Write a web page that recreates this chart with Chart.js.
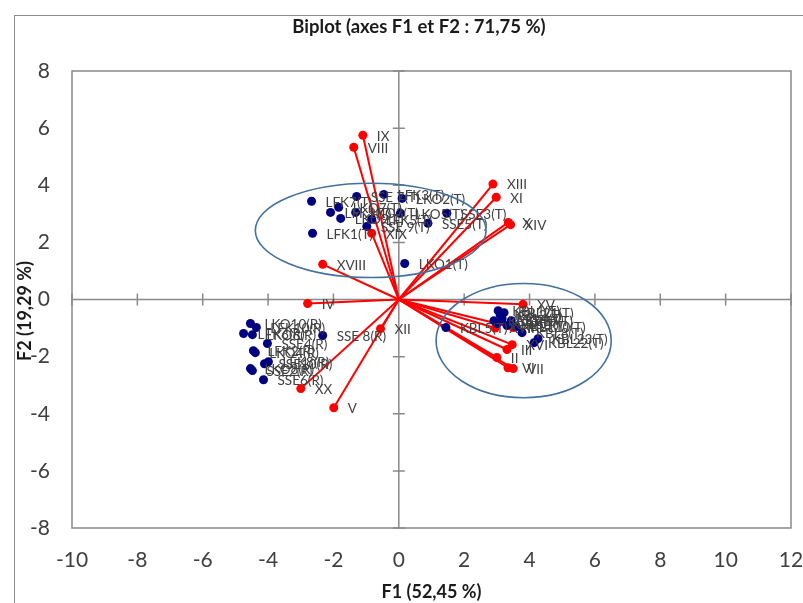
<!DOCTYPE html>
<html>
<head>
<meta charset="utf-8">
<script src="https://cdn.jsdelivr.net/npm/chart.js@4/dist/chart.umd.min.js"></script>
<style>
  html, body { margin: 0; padding: 0; background: #fff; }
  #wrap { position: relative; width: 803px; height: 603px; }
</style>
</head>
<body>
<div id="wrap"><canvas id="biplot" width="803" height="603"></canvas></div>
<script>
// Biplot F1 x F2 : observations (blue) + active variables (red vectors)

const F1_TICKS = [-10, -8, -6, -4, -2, 0, 2, 4, 6, 8, 10, 12];
const F2_TICKS = [-8, -6, -4, -2, 0, 2, 4, 6, 8];

const varNames = ["I", "II", "III", "IV", "V", "VI", "VII", "VIII", "IX", "X",
  "XI", "XII", "XIII", "XIV", "XV", "XVI", "XVII", "XVIII", "XIX", "XX"];
const varF1 = [3.50, 3.00, 3.31, -2.79, -1.99, 3.34, 3.50, -1.38, -1.10, 3.35,
  2.98, -0.56, 2.88, 3.42, 3.80, 3.47, 2.95, -2.33, -0.83, -3.00];
const varF2 = [-0.98, -2.03, -1.75, -0.14, -3.79, -2.39, -2.42, 5.33, 5.75, 2.70,
  3.58, -1.02, 4.04, 2.62, -0.17, -1.58, -1.00, 1.23, 2.32, -3.12];

const obsNames = [
  "LFK7(T)", "LKO7(T)", "LFK9(T)", "LKO9(T)", "SSE 7(T)", "LFK3(T)", "LKO3(T)", "LFK5(T)",
  "SSE 9(T)", "LKO5(T)", "LKO2(T)", "SSE3(T)", "SSE5(T)", "LFK1(T)", "LKO1(T)",
  "LKO10(R)", "LFK10(R)", "LFK6(R)", "LKO6(R)", "SSE4(R)", "LFK2(R)", "LKO4(R)",
  "SSE10(R)", "LFK8(R)", "LKO8(R)", "SSE2(R)", "SSE6(R)", "SSE 8(R)",
  "KBL5(T)", "KBL1(T)", "KBL2(T)", "KBL3(T)", "KBL4(T)", "KBL6(T)", "KBL7(T)",
  "KBL8(T)", "KBL22(T)", "KBL23(T)", "KBL9(T)", "KBL10(T)", "KBL21(T)"
];
const obsF1 = [
  -2.67, -1.84, -2.09, -1.78, -1.29, -0.46, -1.32, -0.83,
  -0.98, 0.05, 0.10, 1.47, 0.89, -2.64, 0.18,
  -4.54, -4.36, -4.75, -4.48, -4.02, -4.45, -4.39,
  -4.11, -3.99, -4.54, -4.48, -4.14, -2.33,
  1.44, 3.04, 3.10, 2.91, 3.16, 3.01, 3.31,
  3.77, 4.14, 4.26, 3.44, 3.59, 3.22
];
const obsF2 = [
  3.44, 3.23, 3.05, 2.84, 3.61, 3.68, 3.05, 2.81,
  2.56, 3.02, 3.54, 3.02, 2.67, 2.32, 1.26,
  -0.84, -0.98, -1.19, -1.23, -1.54, -1.79, -1.86,
  -2.25, -2.18, -2.42, -2.49, -2.81, -1.26,
  -0.98, -0.39, -0.53, -0.74, -0.67, -0.84, -0.91,
  -1.16, -1.51, -1.37, -0.74, -0.95, -0.46
];

// group ellipses (centre and half-axes in F1/F2 units)
const ellipseF1 = [-0.86, 3.82];
const ellipseF2 = [2.42, -1.44];
const ellipseRadF1 = [3.53, 2.68];
const ellipseRadF2 = [1.65, 2.0];

const RED = "#ff0000";
const NAVY = "#000080";
const AXIS = "#898989";
const TEXT = "#404040";
const FONT = "Lato, 'DejaVu Sans', sans-serif";

const datasets = [{
  label: "Observations",
  data: obsF1.map((v, i) => ({ x: v, y: obsF2[i], name: obsNames[i] })),
  backgroundColor: NAVY,
  borderColor: NAVY,
  pointRadius: 4.5,
  pointBorderWidth: 0,
}];
varNames.forEach((n, i) => {
  datasets.push({
    label: n,
    data: [{ x: 0, y: 0 }, { x: varF1[i], y: varF2[i], name: n }],
    showLine: true,
    borderColor: RED,
    backgroundColor: RED,
    borderWidth: 2,
    pointRadius: [0, 4.5],
    pointBorderWidth: 0,
  });
});

const biplotDeco = {
  id: "biplotDeco",
  beforeDraw(chart) {
    const { ctx } = chart;
    ctx.save();
    ctx.strokeStyle = "#8c8c8c";
    ctx.lineWidth = 1;
    ctx.strokeRect(14.5, 15.5, 1000, 1000);
    ctx.restore();
  },
  beforeDatasetsDraw(chart) {
    const { ctx, chartArea: a, scales: { x, y } } = chart;
    ctx.save();
    ctx.strokeStyle = AXIS;
    ctx.lineWidth = 1.5;
    ctx.strokeRect(a.left, a.top, a.right - a.left, a.bottom - a.top);
    const x0 = x.getPixelForValue(0);
    const y0 = y.getPixelForValue(0);
    ctx.beginPath();
    ctx.moveTo(x0, a.top); ctx.lineTo(x0, a.bottom);
    ctx.moveTo(a.left, y0); ctx.lineTo(a.right, y0);
    F1_TICKS.forEach((v) => {
      const px = x.getPixelForValue(v);
      ctx.moveTo(px, y0 - 6); ctx.lineTo(px, y0 + 6);
    });
    F2_TICKS.forEach((v) => {
      const py = y.getPixelForValue(v);
      ctx.moveTo(x0 - 6, py); ctx.lineTo(x0 + 6, py);
    });
    ctx.stroke();
    ctx.restore();
  },
  afterDatasetsDraw(chart) {
    const { ctx, scales: { x, y } } = chart;
    ctx.save();
    // point labels
    ctx.font = "13.5px " + FONT;
    ctx.fillStyle = TEXT;
    ctx.textAlign = "left";
    ctx.textBaseline = "middle";
    chart.data.datasets.forEach((ds) => {
      ds.data.forEach((p) => {
        if (!p.name) return;
        ctx.fillText(p.name, x.getPixelForValue(p.x) + 14, y.getPixelForValue(p.y) + 1);
      });
    });
    // ellipses
    ctx.strokeStyle = "#41719c";
    ctx.lineWidth = 1.6;
    ellipseF1.forEach((cx, i) => {
      const px = x.getPixelForValue(cx);
      const py = y.getPixelForValue(ellipseF2[i]);
      const rx = Math.abs(x.getPixelForValue(cx + ellipseRadF1[i]) - px);
      const ry = Math.abs(y.getPixelForValue(ellipseF2[i] + ellipseRadF2[i]) - py);
      ctx.beginPath();
      ctx.ellipse(px, py, rx, ry, 0, 0, Math.PI * 2);
      ctx.stroke();
    });
    ctx.restore();
  },
  afterDraw(chart) {
    const { ctx, chartArea: a } = chart;
    ctx.save();
    ctx.fillStyle = "#1a1a1a";
    ctx.textAlign = "center";
    ctx.textBaseline = "middle";
    ctx.font = "bold 18.5px " + FONT;
    ctx.fillText("Biplot (axes F1 et F2 : 71,75 %)", 419, 27);
    ctx.font = "bold 18px " + FONT;
    ctx.fillText("F1 (52,45 %)", (a.left + a.right) / 2, 592);
    ctx.translate(25, 311);
    ctx.rotate(-Math.PI / 2);
    ctx.fillText("F2 (19,29 %)", 0, 0);
    ctx.restore();
  },
};

new Chart(document.getElementById("biplot"), {
  type: "scatter",
  data: { datasets },
  options: {
    responsive: false,
    animation: false,
    layout: { padding: { top: 71, right: 12, left: 0, bottom: 0 } },
    plugins: { legend: { display: false }, tooltip: { enabled: false } },
    scales: {
      x: {
        min: -10, max: 12,
        afterBuildTicks: (s) => { s.ticks = F1_TICKS.map((v) => ({ value: v })); },
        afterFit: (s) => { s.height = 75; s.paddingLeft = 0; s.paddingRight = 0; },
        grid: { display: false, drawTicks: false },
        border: { display: false },
        ticks: { color: TEXT, font: { family: FONT, size: 21 }, padding: 20, autoSkip: false, maxRotation: 0 },
      },
      y: {
        min: -8, max: 8,
        afterBuildTicks: (s) => { s.ticks = F2_TICKS.map((v) => ({ value: v })); },
        afterFit: (s) => { s.width = 72; s.paddingTop = 0; s.paddingBottom = 0; },
        grid: { display: false, drawTicks: false },
        border: { display: false },
        ticks: { color: TEXT, font: { family: FONT, size: 21 }, padding: 22, autoSkip: false },
      },
    },
  },
  plugins: [biplotDeco],
});
</script>
</body>
</html>
